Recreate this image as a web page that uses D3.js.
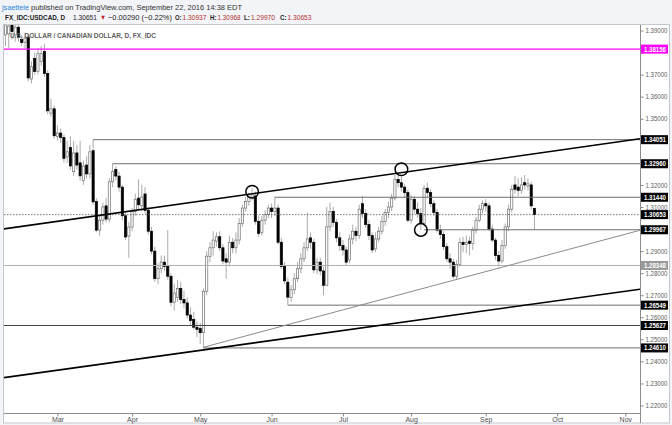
<!DOCTYPE html>
<html><head><meta charset="utf-8">
<script src="https://cdn.jsdelivr.net/npm/d3@7"></script>
<style>
body{margin:0;background:#f2f4f7;}
svg{display:block;font-family:"Liberation Sans",Arial,sans-serif;}
</style></head>
<body><svg id="c" width="672" height="425"></svg>
<script>
// ---------------- DATA ----------------
const monthDays = [
  ["2016-02",[8,9,10,11,12,15,16,17,18,19,22,23,24,25,26,29]],
  ["2016-03",[1,2,3,4,7,8,9,10,11,14,15,16,17,18,21,22,23,24,25,28,29,30,31]],
  ["2016-04",[1,4,5,6,7,8,11,12,13,14,15,18,19,20,21,22,25,26,27,28,29]],
  ["2016-05",[2,3,4,5,6,9,10,11,12,13,16,17,18,19,20,23,24,25,26,27,30,31]],
  ["2016-06",[1,2,3,6,7,8,9,10,13,14,15,16,17,20,21,22,23,24,27,28,29,30]],
  ["2016-07",[1,4,5,6,7,8,11,12,13,14,15,18,19,20,21,22,25,26,27,28,29]],
  ["2016-08",[1,2,3,4,5,8,9,10,11,12,15,16,17,18,19,22,23,24,25,26,29,30,31]],
  ["2016-09",[1,2,5,6,7,8,9,12,13,14,15,16,19,20,21,22]]
];
const open = [
 1.3880,1.3885,1.3925,1.3880,1.3915,1.3860,1.3845,1.3870,1.3680,1.3773,1.3714,1.3760,1.3805,1.3705,1.3525,1.3545,
 1.3420,1.3435,1.3415,1.3327,1.3370,1.3260,1.3345,1.3300,1.3220,1.3290,1.3250,1.3355,1.3125,1.2995,1.3040,1.3105,1.3045,1.3214,1.3270,1.3240,1.3190,1.3060,1.2968,
 1.3009,1.3080,1.3140,1.3105,1.3159,1.3085,1.2990,1.2900,1.2775,1.2820,1.2850,1.2830,1.2786,1.2668,1.2690,1.2730,1.2680,1.2665,1.2610,1.2590,1.2555,
 1.2550,1.2530,1.2718,1.2875,1.2915,1.2945,1.2965,1.2915,1.2865,1.2850,1.2940,1.2915,1.2950,1.3025,1.3095,1.3125,1.3145,1.3150,1.3035,1.2985,1.3040,1.3065,
 1.3095,1.3080,1.3095,1.2940,1.2830,1.2759,1.2690,1.2725,1.2775,1.2820,1.2865,1.2915,1.2960,1.2940,1.2815,1.2850,1.2810,1.2745,1.3010,1.3080,1.3030,1.2960,
 1.2925,1.2905,1.2860,1.2955,1.2990,1.2970,1.3115,1.3070,1.3020,1.2970,1.2910,1.2955,1.2990,1.3035,1.3075,1.3100,1.3140,1.3225,1.3210,1.3190,1.3165,
 1.3040,1.3135,1.3090,1.3070,1.3025,1.3185,1.3165,1.3115,1.3075,1.2995,1.2975,1.2920,1.2865,1.2850,1.2786,1.2840,1.2940,1.2930,1.2945,1.2935,1.2995,1.3040,1.3090,
 1.3115,1.3105,1.3000,1.2950,1.2880,1.2855,1.2925,1.3010,1.3090,1.3200,1.3190,1.3175,1.3210,1.3195,1.3200,1.30937
];
const high = [
 1.3940,1.3940,1.3940,1.3940,1.3935,1.3880,1.3890,1.3885,1.3760,1.3800,1.3820,1.3830,1.3840,1.3720,1.3590,1.3560,
 1.3470,1.3455,1.3430,1.3400,1.3420,1.3400,1.3380,1.3400,1.3310,1.3330,1.3380,1.3405,1.3140,1.3060,1.3120,1.3140,1.3230,1.3296,1.3285,1.3260,1.3200,1.3080,1.3030,
 1.3095,1.3160,1.3225,1.3200,1.3190,1.3100,1.3010,1.2920,1.2845,1.2880,1.2880,1.2995,1.2800,1.2750,1.2770,1.2760,1.2720,1.2690,1.2645,1.2625,1.2580,
 1.2575,1.2730,1.2900,1.2940,1.2990,1.2985,1.2990,1.2930,1.2890,1.2970,1.2960,1.2985,1.3050,1.3110,1.3145,1.3165,1.3185,1.3170,1.3060,1.3060,1.3085,1.3110,
 1.3115,1.3144,1.3110,1.2960,1.2850,1.2780,1.2745,1.2800,1.2850,1.2890,1.2940,1.3075,1.2985,1.2955,1.2870,1.2870,1.2830,1.3100,1.3120,1.3100,1.3045,1.2985,
 1.2950,1.2920,1.2975,1.3020,1.3010,1.3110,1.3150,1.3090,1.3040,1.2985,1.2985,1.3010,1.3060,1.3090,1.3125,1.3160,1.3245,1.3255,1.3240,1.3205,1.3180,
 1.3155,1.3150,1.3120,1.3095,1.3200,1.3210,1.3180,1.3130,1.3090,1.3020,1.2990,1.2935,1.2890,1.2865,1.2860,1.2960,1.2965,1.2970,1.2965,1.3010,1.3055,1.3110,1.3130,
 1.3135,1.3120,1.3020,1.2960,1.2900,1.2950,1.3025,1.3110,1.3200,1.3240,1.3230,1.3235,1.3245,1.3230,1.3215,1.30968
];
const low = [
 1.3830,1.3820,1.3860,1.3850,1.3850,1.3830,1.3820,1.3670,1.3660,1.3700,1.3700,1.3740,1.3690,1.3520,1.3510,1.3410,
 1.3400,1.3390,1.3300,1.3300,1.3270,1.3240,1.3270,1.3220,1.3200,1.3230,1.3230,1.3110,1.2985,1.2970,1.3020,1.3030,1.3030,1.3190,1.3220,1.3170,1.3040,1.2950,1.2870,
 1.2990,1.3060,1.3090,1.3080,1.3070,1.2975,1.2885,1.2760,1.2750,1.2800,1.2810,1.2770,1.2650,1.2630,1.2670,1.2660,1.2640,1.2595,1.2565,1.2545,1.2510,
 1.2480,1.2461,1.2700,1.2850,1.2880,1.2920,1.2900,1.2840,1.2775,1.2830,1.2890,1.2890,1.2930,1.3010,1.3080,1.3105,1.3130,1.3020,1.2965,1.2970,1.3020,1.3050,
 1.3050,1.3060,1.2930,1.2820,1.2750,1.2655,1.2670,1.2705,1.2760,1.2800,1.2850,1.2900,1.2910,1.2800,1.2795,1.2790,1.2700,1.2740,1.2990,1.3010,1.2940,1.2900,
 1.2880,1.2835,1.2845,1.2930,1.2945,1.2955,1.3050,1.3005,1.2950,1.2890,1.2895,1.2940,1.2975,1.3015,1.3050,1.3080,1.3130,1.3190,1.3170,1.3140,1.3030,
 1.3025,1.3070,1.3050,1.29967,1.3010,1.3145,1.3100,1.3060,1.2985,1.2955,1.2905,1.2850,1.2820,1.2774,1.2770,1.2830,1.2895,1.2890,1.2880,1.2905,1.2980,1.3030,1.3070,
 1.3080,1.2990,1.2940,1.2860,1.2830,1.2845,1.2910,1.2990,1.3075,1.3160,1.3150,1.3160,1.3180,1.3175,1.3090,1.29970
];
const close = [
 1.3925,1.3920,1.3895,1.3915,1.3870,1.3845,1.3865,1.3685,1.3736,1.3714,1.3795,1.3795,1.3705,1.3536,1.3545,1.3423,
 1.3435,1.3415,1.3320,1.3350,1.3286,1.3345,1.3290,1.3241,1.3285,1.3250,1.3350,1.3123,1.2995,1.3040,1.3100,1.3045,1.3214,1.3260,1.3240,1.3190,1.3060,1.2964,1.3009,
 1.3080,1.3135,1.3110,1.3145,1.3085,1.2990,1.2900,1.2775,1.2820,1.2850,1.2830,1.2786,1.2668,1.2710,1.2730,1.2680,1.2665,1.2610,1.2585,1.2555,1.2545,
 1.2530,1.2718,1.2877,1.2915,1.2950,1.2965,1.2915,1.2855,1.2850,1.2940,1.2915,1.2950,1.3025,1.3095,1.3125,1.3145,1.3160,1.3035,1.2980,1.3040,1.3065,1.3095,
 1.3080,1.3095,1.2940,1.2830,1.2765,1.2691,1.2725,1.2775,1.2820,1.2865,1.2915,1.2955,1.2940,1.2815,1.2850,1.2810,1.2745,1.3010,1.3080,1.3030,1.2960,1.2925,
 1.2905,1.2850,1.2955,1.2990,1.2970,1.3090,1.3070,1.3020,1.2970,1.2905,1.2955,1.2990,1.3035,1.3075,1.3100,1.3140,1.3225,1.3210,1.3190,1.3165,1.3040,
 1.3135,1.3090,1.3070,1.3025,1.3185,1.3165,1.3115,1.3075,1.2995,1.2975,1.2920,1.2865,1.2850,1.2786,1.2840,1.2940,1.2930,1.2940,1.2935,1.2995,1.3040,1.3090,1.3115,
 1.3105,1.3000,1.2950,1.2880,1.2855,1.2925,1.3010,1.3090,1.3180,1.3180,1.3175,1.3200,1.3200,1.3205,1.3105,1.30653
];
const priceTicks = [1.22,1.23,1.24,1.25,1.26,1.27,1.28,1.29,1.30,1.31,1.32,1.33,1.34,1.35,1.36,1.37,1.38,1.39];
const monthTickDates = ["2016-03-01","2016-04-01","2016-05-02","2016-06-01","2016-07-01","2016-08-01","2016-09-01","2016-10-03","2016-11-01"];
const monthLabels = ["Mar","Apr","May","Jun","Jul","Aug","Sep","Oct","Nov"];
// horizontal levels
const levelPrices = [1.38156,1.34051,1.32960,1.31440,1.30653,1.29967,1.28348,1.26549,1.25627,1.24610];
const levelStarts = [null,"2016-03-16","2016-03-24","2016-06-02",null,"2016-08-05",null,"2016-06-08",null,"2016-05-03"];
const levelKinds  = ["magenta","level","level","level","last","level","light","level","dark","level"];
// trend lines: [date1, price1, date2, price2, kind, extendLeft]
const trendLines = [
  ["2016-03-01",1.3035,"2016-09-01",1.3310,"thick",true],
  ["2016-03-01",1.2360,"2016-09-01",1.2630,"thick",true],
  ["2016-05-03",1.2464,"2016-09-01",1.2807,"thin",false]
];
const circleDates = ["2016-05-24","2016-07-27","2016-08-04"];
const circlePrices = [1.3169,1.3271,1.2996];

// ---------------- CHART ----------------
const svg = d3.select("#c");
const L = 4, R = 640, T = 25, B = 413;
const parse = d3.timeParse("%Y-%m-%d");
const calendar = d3.timeDay.range(new Date(2016,1,8), new Date(2016,11,1))
  .filter(d => d.getDay() !== 0 && d.getDay() !== 6);
const idx = s => { const t = +parse(s); return calendar.findIndex(c => +c === t); };

const dates = [];
monthDays.forEach(([m, days]) => days.forEach(dd => dates.push(`${m}-${String(dd).padStart(2,"0")}`)));
const candles = dates.map((d,i) => ({i: idx(d), o: open[i], h: high[i], l: low[i], c: close[i]}));

const x = d3.scaleLinear().domain([0, idx("2016-11-01")]).range([5.5, 625.3]);
const y = d3.scaleLinear().domain([1.22, 1.39]).range([405.5, 30.5]);

// panel
svg.append("rect").attr("x",3.5).attr("y",24.5).attr("width",666).attr("height",398.5)
  .attr("fill","#fff").attr("stroke","#c3c7ce");

svg.append("defs").append("clipPath").attr("id","clip")
  .append("rect").attr("x",L).attr("y",T).attr("width",R-L).attr("height",B-T);
const plot = svg.append("g").attr("clip-path","url(#clip)");

// title inside plot
svg.append("text").attr("x",10).attr("y",37.5).attr("font-size",8).attr("fill","#606060")
  .attr("font-weight","600")
  .attr("textLength",146).attr("lengthAdjust","spacingAndGlyphs")
  .text("U.S. DOLLAR / CANADIAN DOLLAR, D, FX_IDC");

// candles
plot.selectAll("line.wick").data(candles).join("line").attr("class","wick")
  .attr("x1",d=>x(d.i)).attr("x2",d=>x(d.i))
  .attr("y1",d=>y(d.h)).attr("y2",d=>y(d.l))
  .attr("stroke","#a0a0a0").attr("stroke-width",0.9);
plot.selectAll("rect.body").data(candles).join("rect").attr("class","body")
  .attr("x",d=>x(d.i)-1.1).attr("width",2.2)
  .attr("y",d=>y(Math.max(d.o,d.c)))
  .attr("height",d=>Math.max(0.8,Math.abs(y(d.o)-y(d.c))))
  .attr("fill",d=>d.c>=d.o?"#fff":"#000")
  .attr("stroke",d=>d.c>=d.o?"#707070":"#000").attr("stroke-width",0.7);

// level lines
const levelStyle = {
  magenta:{stroke:"#ff00ff",w:1.4,dash:null,box:"#ff00ff",txt:"#fff"},
  level:{stroke:"#6e6e6e",w:1,dash:null,box:"#000",txt:"#fff"},
  last:{stroke:"#555",w:0.8,dash:"1.5,1.5",box:"#000",txt:"#fff"},
  light:{stroke:"#b0b0b0",w:1,dash:null,box:"#9a9a9a",txt:"#fff"},
  dark:{stroke:"#444",w:1,dash:null,box:"#000",txt:"#fff"}
};
levelPrices.forEach((p,k) => {
  const st = levelStyle[levelKinds[k]];
  const x0 = levelStarts[k] ? x(idx(levelStarts[k])) : L;
  const ln = plot.append("line").attr("x1",x0).attr("x2",R).attr("y1",y(p)).attr("y2",y(p))
    .attr("stroke",st.stroke).attr("stroke-width",st.w);
  if (st.dash) ln.attr("stroke-dasharray",st.dash);
});

// trend lines
trendLines.forEach(([d1,p1,d2,p2,kind,extL]) => {
  const xa = x(idx(d1)), ya = y(p1), xb = x(idx(d2)), yb = y(p2);
  const s = (yb-ya)/(xb-xa);
  const xs = extL ? L : xa;
  plot.append("line").attr("x1",xs).attr("y1",ya + s*(xs-xa))
    .attr("x2",R).attr("y2",ya + s*(R-xa))
    .attr("stroke",kind==="thick"?"#000":"#8a8a8a")
    .attr("stroke-width",kind==="thick"?1.6:1);
});

// circles
circleDates.forEach((d,k) => {
  plot.append("circle").attr("cx",x(idx(d))).attr("cy",y(circlePrices[k])).attr("r",6.3)
    .attr("fill","none").attr("stroke","#000").attr("stroke-width",1.5);
});

// axes lines
svg.append("line").attr("x1",R+0.5).attr("x2",R+0.5).attr("y1",T).attr("y2",423).attr("stroke","#8c8c8c");
svg.append("line").attr("x1",L).attr("x2",R).attr("y1",B+0.5).attr("y2",B+0.5).attr("stroke","#8c8c8c");

// price axis (labels hidden where a level box covers them, as in the original)
const covered = v => levelPrices.some(p => Math.abs(y(p) - y(v)) < 7);
const yAxis = d3.axisRight(y).tickValues(priceTicks)
  .tickFormat(v => covered(v) ? "" : d3.format(".5f")(v)).tickSize(3).tickPadding(2);
const yaG = svg.append("g").attr("transform",`translate(${R+0.5},0)`).call(yAxis);
yaG.select(".domain").remove();
yaG.selectAll("line").attr("stroke","#888");
yaG.selectAll("text").attr("font-size",7).attr("fill","#606060").attr("font-family","Liberation Sans, Arial, sans-serif")
  .each(function(){ if (this.textContent) d3.select(this).attr("textLength",22).attr("lengthAdjust","spacingAndGlyphs"); });

// level boxes
levelPrices.forEach((p,k) => {
  const st = levelStyle[levelKinds[k]];
  const g = svg.append("g");
  g.append("rect").attr("x",R+1).attr("y",y(p)-4.5).attr("width",27).attr("height",9).attr("fill",st.box);
  g.append("text").attr("x",R+4).attr("y",y(p)+2.5).attr("font-size",7).attr("font-weight","bold").attr("fill",st.txt)
    .attr("textLength",22).attr("lengthAdjust","spacingAndGlyphs").text(d3.format(".5f")(p));
});

// time axis
const xAxis = d3.axisBottom(x).tickValues(monthTickDates.map(idx))
  .tickFormat((d,k)=>monthLabels[k]).tickSize(3).tickPadding(1);
const xaG = svg.append("g").attr("transform",`translate(0,${B+0.5})`).call(xAxis);
xaG.select(".domain").remove();
xaG.selectAll("line").attr("stroke","#888");
xaG.selectAll("text").attr("font-size",7).attr("fill","#505050").attr("font-family","Liberation Sans, Arial, sans-serif");

// header
const h1 = svg.append("g").attr("font-size",7.5);
h1.append("text").attr("x",2).attr("y",9.5).attr("fill","#2f86d6").attr("textLength",27).attr("lengthAdjust","spacingAndGlyphs").text("jsaettele");
h1.append("text").attr("x",31).attr("y",9.5).attr("fill","#333").attr("textLength",211).attr("lengthAdjust","spacingAndGlyphs")
  .text("published on TradingView.com, September 22, 2016 14:38 EDT");
const segs = [
  ["FX_IDC:USDCAD, D",5,60,"#222","bold",6.5],
  ["1.30651",73,24,"#222","normal",7.5],
  ["▼",100,6,"#c0282d","normal",7.5],
  ["−0.00290 (−0.22%)",108,64,"#222","normal",7.5],
  ["O:",175,6.5,"#222","bold",7.5],["1.30937",182.5,24,"#b5302b","normal",7.5],
  ["H:",210,6.5,"#222","bold",7.5],["1.30968",217.5,23,"#b5302b","normal",7.5],
  ["L:",244,6,"#222","bold",7.5],["1.29970",251,24,"#b5302b","normal",7.5],
  ["C:",280,6.5,"#222","bold",7.5],["1.30653",287.5,24,"#b5302b","normal",7.5]
];
segs.forEach(([t,sx,w,col,fw,fs]) => {
  svg.append("text").attr("x",sx).attr("y",20).attr("font-size",fs).attr("fill",col).attr("font-weight",fw)
    .attr("textLength",w).attr("lengthAdjust","spacingAndGlyphs").text(t);
});
</script></body></html>
